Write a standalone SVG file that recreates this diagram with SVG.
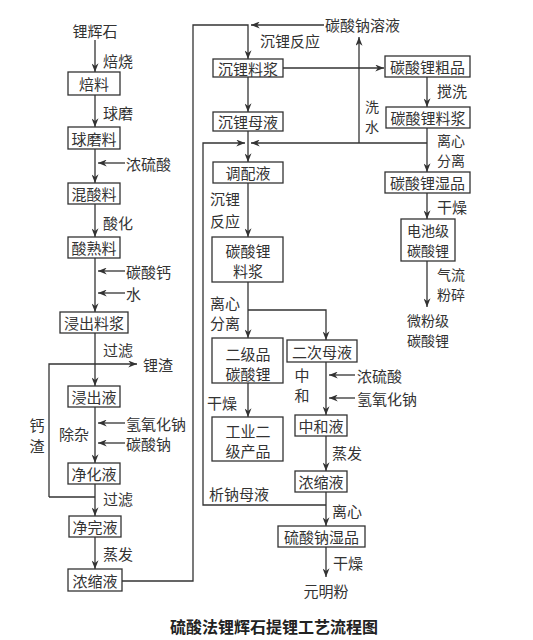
<svg xmlns="http://www.w3.org/2000/svg" width="533" height="640" viewBox="0 0 533 640">
<defs>
<marker id="ah" viewBox="0 0 10 8" refX="10" refY="4" markerWidth="9" markerHeight="7" orient="auto" markerUnits="userSpaceOnUse"><path d="M0,0 L10,4 L0,8 L3,4 z" fill="#333"/></marker>
<style>
text{font-family:"Noto Sans CJK SC","Noto Sans CJK JP",sans-serif;font-size:15px;fill:#333;dominant-baseline:central}
.c{text-anchor:middle}
.s{font-size:14px}
.box{fill:#fff;stroke:#333;stroke-width:1.3}
.ln{fill:none;stroke:#333;stroke-width:1.3}
.ar{fill:none;stroke:#333;stroke-width:1.3;marker-end:url(#ah)}
.title{font-size:16px;font-weight:bold;fill:#222}
</style>
</defs>
<rect width="533" height="640" fill="#fff"/>
<g id="connectors">
<line class="ar" x1="95" y1="40" x2="95" y2="72"/>
<line class="ar" x1="95" y1="95" x2="95" y2="127"/>
<line class="ar" x1="95" y1="149" x2="95" y2="183"/>
<line class="ar" x1="125" y1="163" x2="98" y2="163"/>
<line class="ar" x1="95" y1="204" x2="95" y2="237"/>
<line class="ar" x1="95" y1="258" x2="95" y2="312"/>
<line class="ar" x1="125" y1="271" x2="98" y2="271"/>
<line class="ar" x1="125" y1="293" x2="98" y2="293"/>
<line class="ar" x1="95" y1="333" x2="95" y2="386"/>
<polyline class="ar" points="49,497 49,364 137,364"/>
<line class="ln" x1="49" y1="497" x2="95" y2="497"/>
<line class="ar" x1="95" y1="407" x2="95" y2="463"/>
<line class="ar" x1="125" y1="423" x2="98" y2="423"/>
<line class="ar" x1="125" y1="443" x2="98" y2="443"/>
<line class="ar" x1="95" y1="484" x2="95" y2="516"/>
<line class="ar" x1="95" y1="537" x2="95" y2="569"/>
<polyline class="ar" points="122,581 193,581 193,25 248,25 248,59"/>
<line class="ar" x1="324" y1="25" x2="251" y2="25"/>
<line class="ar" x1="283" y1="68" x2="384" y2="68"/>
<line class="ar" x1="427" y1="77" x2="427" y2="107"/>
<line class="ar" x1="427" y1="128" x2="427" y2="172"/>
<line class="ar" x1="427" y1="143" x2="251" y2="143"/>
<line class="ar" x1="359" y1="143" x2="359" y2="37"/>
<line class="ar" x1="427" y1="193" x2="427" y2="219"/>
<line class="ar" x1="427" y1="261" x2="427" y2="307"/>
<line class="ar" x1="248" y1="77" x2="248" y2="112"/>
<line class="ar" x1="248" y1="131" x2="248" y2="162"/>
<line class="ar" x1="248" y1="183" x2="248" y2="237"/>
<line class="ar" x1="248" y1="282" x2="248" y2="338"/>
<polyline class="ar" points="248,310 326,310 326,340"/>
<line class="ar" x1="248" y1="383" x2="248" y2="417"/>
<line class="ar" x1="326" y1="362" x2="326" y2="415"/>
<line class="ar" x1="355" y1="375" x2="329" y2="375"/>
<line class="ar" x1="355" y1="398" x2="329" y2="398"/>
<line class="ar" x1="326" y1="436" x2="326" y2="471"/>
<line class="ar" x1="326" y1="492" x2="326" y2="526"/>
<polyline class="ar" points="326,505 203,505 203,143 245,143"/>
<line class="ar" x1="326" y1="547" x2="326" y2="577"/>
</g>
<g id="labels">
<text x="103" y="60">焙烧</text>
<text x="103" y="112">球磨</text>
<text x="126" y="163">浓硫酸</text>
<text x="103" y="222">酸化</text>
<text x="126" y="271">碳酸钙</text>
<text x="126" y="293">水</text>
<text x="103" y="349">过滤</text>
<text x="143" y="364">锂渣</text>
<text x="126" y="423">氢氧化钠</text>
<text x="126" y="443">碳酸钠</text>
<text class="c" x="74" y="433">除杂</text>
<text class="c" x="37" y="424">钙<tspan x="37" dy="21">渣</tspan></text>
<text x="103" y="498">过滤</text>
<text x="103" y="553">蒸发</text>
<text x="325" y="24">碳酸钠溶液</text>
<text x="260" y="40">沉锂反应</text>
<text x="437" y="90">搅洗</text>
<text class="c s" x="372" y="106">洗<tspan x="372" dy="20">水</tspan></text>
<text class="s" x="437" y="140">离心<tspan x="437" dy="20">分离</tspan></text>
<text x="437" y="206">干燥</text>
<text class="s" x="437" y="274">气流<tspan x="437" dy="20">粉碎</tspan></text>
<text class="c" x="225" y="198">沉锂<tspan x="225" dy="22">反应</tspan></text>
<text class="c" x="225" y="302">离心<tspan x="225" dy="20">分离</tspan></text>
<text class="c" x="222" y="402">干燥</text>
<text class="c" x="302" y="374">中<tspan x="302" dy="20">和</tspan></text>
<text x="357" y="375">浓硫酸</text>
<text x="357" y="398">氢氧化钠</text>
<text x="332" y="452">蒸发</text>
<text x="209" y="493">析钠母液</text>
<text x="332" y="510">离心</text>
<text x="333" y="562">干燥</text>
</g>
<g id="n-lihuishi"><text class="c" x="95" y="30">锂辉石</text></g>
<g id="n-beiliao"><rect class="box" x="68" y="72" width="52" height="23"/><text class="c" x="94" y="83.5">焙料</text></g>
<g id="n-qiumoliao"><rect class="box" x="68" y="127" width="52" height="22"/><text class="c" x="94" y="138">球磨料</text></g>
<g id="n-hunsuanliao"><rect class="box" x="68" y="183" width="52" height="21"/><text class="c" x="94" y="193.5">混酸料</text></g>
<g id="n-suanshuliao"><rect class="box" x="68" y="237" width="52" height="21"/><text class="c" x="94" y="247.5">酸熟料</text></g>
<g id="n-jinchuliaojiang"><rect class="box" x="60" y="312" width="68" height="21"/><text class="c" x="94" y="322.5">浸出料浆</text></g>
<g id="n-jinchuye"><rect class="box" x="68" y="386" width="52" height="21"/><text class="c" x="94" y="396.5">浸出液</text></g>
<g id="n-jinghuaye"><rect class="box" x="68" y="463" width="52" height="21"/><text class="c" x="94" y="473.5">净化液</text></g>
<g id="n-jingwanye"><rect class="box" x="69" y="516" width="52" height="21"/><text class="c" x="95" y="526.5">净完液</text></g>
<g id="n-nongsuoye1"><rect class="box" x="68" y="569" width="54" height="22"/><text class="c" x="95" y="580">浓缩液</text></g>
<g id="n-chenliliaojiang"><rect class="box" x="213" y="59" width="70" height="18"/><text class="c" x="248" y="68">沉锂料浆</text></g>
<g id="n-chenlimuye"><rect class="box" x="213" y="112" width="70" height="19"/><text class="c" x="248" y="121.5">沉锂母液</text></g>
<g id="n-tiaopeiye"><rect class="box" x="213" y="162" width="70" height="21"/><text class="c" x="248" y="172.5">调配液</text></g>
<g id="n-tansuanliliaojiang2"><rect class="box" x="212" y="237" width="71" height="45"/><text class="c" x="248" y="250">碳酸锂<tspan x="248" dy="20">料浆</tspan></text></g>
<g id="n-erjipin"><rect class="box" x="212" y="338" width="71" height="45"/><text class="c" x="248" y="353">二级品<tspan x="248" dy="20">碳酸锂</tspan></text></g>
<g id="n-gongyeerji"><rect class="box" x="212" y="417" width="71" height="44"/><text class="c" x="248" y="430">工业二<tspan x="248" dy="20">级产品</tspan></text></g>
<g id="n-ercimuye"><rect class="box" x="287" y="340" width="70" height="22"/><text class="c" x="322" y="351">二次母液</text></g>
<g id="n-zhongheye"><rect class="box" x="295" y="415" width="52" height="21"/><text class="c" x="321" y="425.5">中和液</text></g>
<g id="n-nongsuoye2"><rect class="box" x="295" y="471" width="52" height="21"/><text class="c" x="321" y="481.5">浓缩液</text></g>
<g id="n-liusuannashipin"><rect class="box" x="278" y="526" width="87" height="21"/><text class="c" x="321.5" y="536.5">硫酸钠湿品</text></g>
<g id="n-yuanmingfen"><text class="c" x="326" y="590">元明粉</text></g>
<g id="n-cupin"><rect class="box" x="385" y="56" width="85" height="21"/><text class="c" x="427.5" y="66.5">碳酸锂粗品</text></g>
<g id="n-tansuanliliaojiang"><rect class="box" x="386" y="107" width="84" height="21"/><text class="c" x="428" y="117.5">碳酸锂料浆</text></g>
<g id="n-shipin"><rect class="box" x="385" y="172" width="85" height="21"/><text class="c" x="427.5" y="182.5">碳酸锂湿品</text></g>
<g id="n-dianchiji"><rect class="box" x="401" y="219" width="54" height="42"/><text class="c s" x="428" y="230">电池级<tspan x="428" dy="20">碳酸锂</tspan></text></g>
<g id="n-weifenji"><text class="c s" x="428" y="320">微粉级<tspan x="428" dy="20">碳酸锂</tspan></text></g>
<g id="title"><text class="c title" x="274" y="626">硫酸法锂辉石提锂工艺流程图</text></g>
</svg>
